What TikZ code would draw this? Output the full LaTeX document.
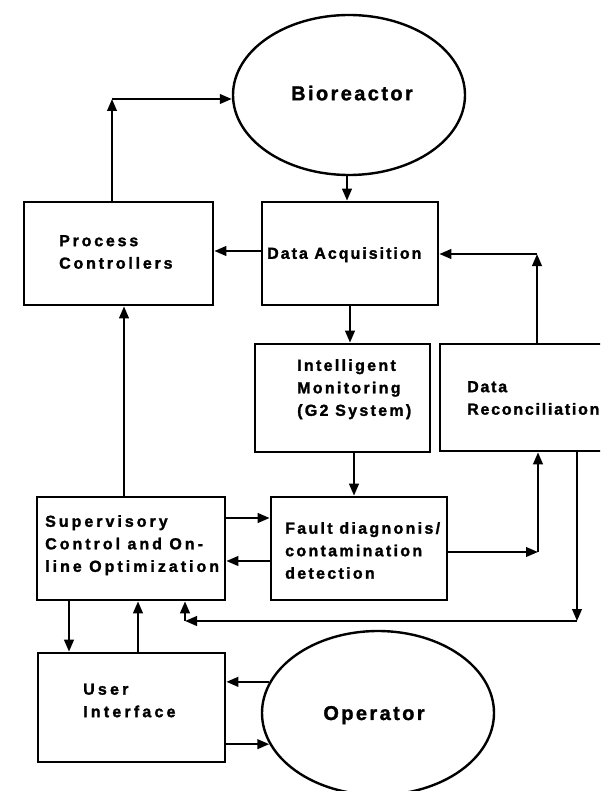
\documentclass[tikz,border=0pt]{standalone}
\usepackage{fontspec}
\setmainfont{Liberation Sans}
\usetikzlibrary{arrows.meta,shapes.geometric}

\tikzset{
  box/.style={draw, rectangle, line width=2.6pt, inner sep=0pt},
  oval/.style={draw, ellipse, line width=2.4pt, inner sep=0pt},
  lbl/.style={inner sep=0pt, align=left, anchor=west,
    font=\fontsize{16}{22.5}\selectfont\bfseries\addfontfeature{LetterSpace=#1,FakeBold=1.6}},
  lbl/.default=16,
  big/.style={inner sep=0pt, text depth=0pt,
    font=\fontsize{20}{24}\selectfont\bfseries\addfontfeature{LetterSpace=12,FakeBold=1.4}},
  arr/.style={line width=2.4pt, -{Triangle[length=12pt,width=9.5pt]}},
}

\begin{document}
\begin{tikzpicture}[x=1pt, y=-1pt]
  \path[use as bounding box] (0,0) rectangle (600,791);
  \fill[white] (0,0) rectangle (600,791);
  \clip (0,0) rectangle (600,791);

  % ovals
  \node[oval, minimum width=232pt, minimum height=160pt] (bio) at (349,95) {};
  \node[oval, minimum width=232pt, minimum height=164pt] (op) at (378,713) {};

  % blocks
  \node[box, minimum width=189pt, minimum height=103pt] (pc) at (118.5,253.5) {};
  \node[box, minimum width=176pt, minimum height=103pt] (da) at (350,253.5) {};
  \node[box, minimum width=175pt, minimum height=108pt] (im) at (342.5,398) {};
  \node[box, minimum width=200pt, minimum height=107pt] (dr) at (540,397.5) {};
  \node[box, minimum width=176pt, minimum height=103pt] (fd) at (359,548.5) {};
  \node[box, minimum width=188pt, minimum height=103pt] (sup) at (131,548.5) {};
  \node[box, minimum width=187pt, minimum height=109pt] (ui) at (131.5,707.5) {};

  % labels
  \node[big] (biot) at (352,93) {Bioreactor};
  \node[big] (opt) at (374,713) {Operator};
  \node[lbl=17.5] (pct) at (59,252) {Process\\Controllers};
  \node[lbl=12.5, text depth=0pt] (dat) at (267,253) {Data Acquisition};
  \node[lbl=14.4] (imt) at (297,389.2) {Intelligent\\Monitoring\\(G2 System)};
  \node[lbl=11] (drt) at (467,398) {Data\\Reconciliation};
  \node[lbl=14.4] (fdt) at (285,550.5) {Fault diagnonis/\\contamination\\detection};
  \node[lbl=18.75] (supt) at (45,545.2) {Supervisory\\Control and On-\\line Optimization};
  \node[lbl=20] (uit) at (83,700.5) {User\\Interface};

  % routing points
  \coordinate (c1) at (112,99);
  \coordinate (c2) at (537,254);
  \coordinate (c3) at (538,552);
  \coordinate (c4) at (577,621);
  \coordinate (c5) at (185,621);
  \coordinate (xbd) at (347,0);
  \coordinate (xif) at (354,0);
  \coordinate (xsp) at (124,0);
  \coordinate (xsu) at (69,0);
  \coordinate (xus) at (138,0);
  \coordinate (yda) at (0,251);
  \coordinate (ysf) at (0,518);
  \coordinate (yfs) at (0,561);

  % process controllers to bioreactor
  \draw[arr] (c1 |- pc.north) -- (c1);
  \draw[arr] (c1) -- (bio.west |- c1);

  % bioreactor to data acquisition
  \draw[arr] (xbd |- bio.south) -- (xbd |- da.north);

  % data acquisition outputs
  \draw[arr] (da.west |- yda) -- (pc.east |- yda);
  \draw[arr] (da.south) -- (da.south |- im.north);

  % data reconciliation back to data acquisition
  \draw[arr] (c2 |- dr.north) -- (c2);
  \draw[arr] (c2) -- (da.east |- c2);

  % monitoring to fault diagnosis
  \draw[arr] (xif |- im.south) -- (xif |- fd.north);

  % fault diagnosis to data reconciliation
  \draw[arr] (fd.east |- c3) -- (c3);
  \draw[arr] (c3) -- (c3 |- dr.south);

  % data reconciliation to supervisory control
  \draw[arr] (c4 |- dr.south) -- (c4);
  \draw[arr] (c4) -- (c5);
  \draw[arr] (c5) -- (c5 |- sup.south);

  % supervisory control <-> fault diagnosis
  \draw[arr] (sup.east |- ysf) -- (fd.west |- ysf);
  \draw[arr] (fd.west |- yfs) -- (sup.east |- yfs);

  % supervisory control to process controllers
  \draw[arr] (xsp |- sup.north) -- (xsp |- pc.south);

  % supervisory control <-> user interface
  \draw[arr] (xsu |- sup.south) -- (xsu |- ui.north);
  \draw[arr] (xus |- ui.north) -- (xus |- sup.south);

  % operator <-> user interface
  \draw[arr] (op.164) -- (op.164 -| ui.east);
  \draw[arr] (op.196 -| ui.east) -- (op.196);
\end{tikzpicture}
\end{document}
